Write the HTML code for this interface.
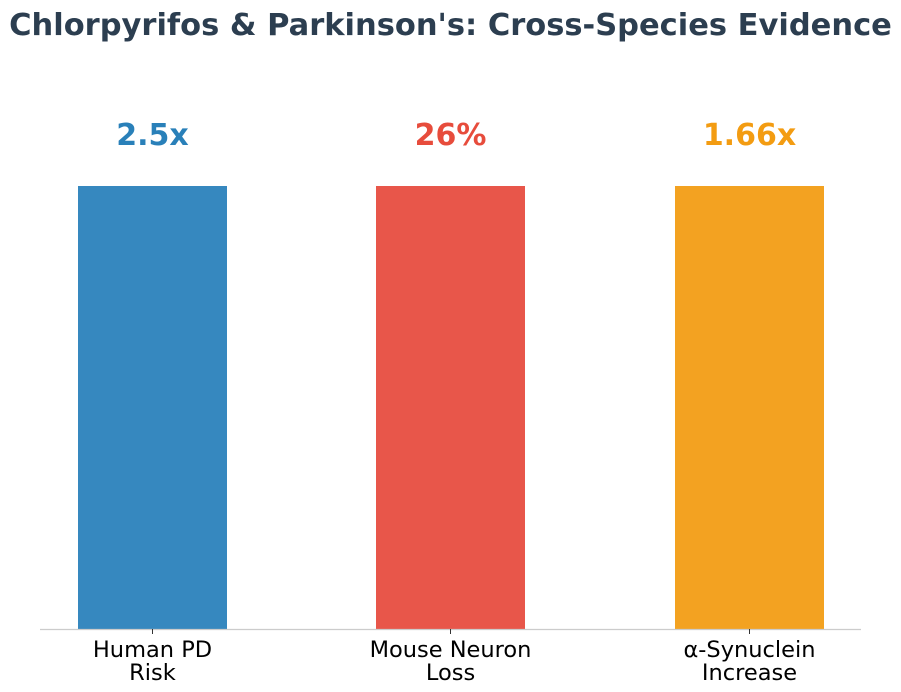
<!DOCTYPE html>
<html><head><meta charset="utf-8"><style>
body{margin:0;background:#fff;}
svg{display:block;font-family:"DejaVu Sans","Liberation Sans",sans-serif;}
</style></head><body>
<svg width="901" height="692" viewBox="0 0 901 692" xmlns="http://www.w3.org/2000/svg">
<rect width="901" height="692" fill="#fff"/>
<text x="450.5" y="35" text-anchor="middle" font-size="30.5" font-weight="bold" fill="#2c3e50">Chlorpyrifos &amp; Parkinson's: Cross-Species Evidence</text>
<rect x="78" y="186" width="149" height="443" fill="#3688bf"/>
<rect x="376" y="186" width="149" height="443" fill="#e8564a"/>
<rect x="675" y="186" width="149" height="443" fill="#f3a221"/>
<text x="152.5" y="145" text-anchor="middle" font-size="30" font-weight="bold" fill="#2980b9">2.5x</text>
<text x="450.5" y="145" text-anchor="middle" font-size="30" font-weight="bold" fill="#e74c3c">26%</text>
<text x="749.5" y="145" text-anchor="middle" font-size="30" font-weight="bold" fill="#f39c12">1.66x</text>
<line x1="40" y1="629.5" x2="861" y2="629.5" stroke="#cccccc" stroke-width="1.2"/>
<g stroke="#333" stroke-width="1"><line x1="152.5" y1="629" x2="152.5" y2="634"/><line x1="450.5" y1="629" x2="450.5" y2="634"/><line x1="749.5" y1="629" x2="749.5" y2="634"/></g>
<g font-size="22.5" fill="#000" text-anchor="middle">
<text x="152.5" y="657">Human PD</text><text x="152.5" y="680">Risk</text>
<text x="450.5" y="657">Mouse Neuron</text><text x="450.5" y="680">Loss</text>
<text x="749.5" y="657">α-Synuclein</text><text x="749.5" y="680">Increase</text>
</g>
</svg>
</body></html>
